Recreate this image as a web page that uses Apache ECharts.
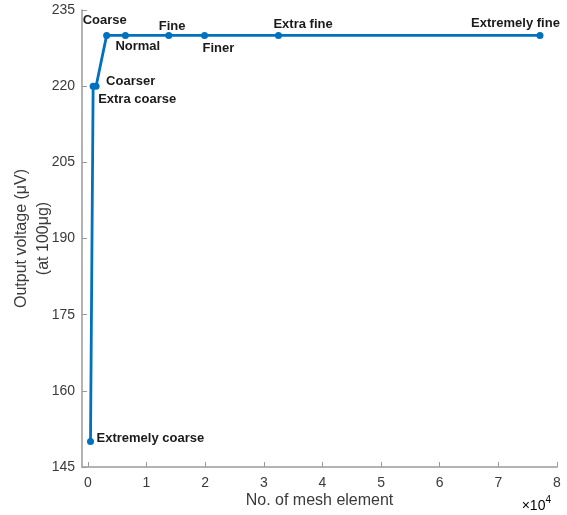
<!DOCTYPE html>
<html>
<head>
<meta charset="utf-8">
<script src="https://cdn.jsdelivr.net/npm/echarts@6/dist/echarts.min.js"></script>
<style>html,body{margin:0;padding:0;background:#fff}#c{width:567px;height:515px}</style>
</head>
<body>
<div id="c"></div>
<script>
// Data
const meshNames = ['Extremely coarse','Extra coarse','Coarser','Coarse','Normal','Fine','Finer','Extra fine','Extremely fine'];
const meshElements = [450, 900, 1400, 3200, 6400, 13800, 19900, 32500, 77100];
const outputVoltage = [150, 220, 220, 230, 230, 230, 230, 230, 230];
const xTicks = [0, 10000, 20000, 30000, 40000, 50000, 60000, 70000, 80000];
const yTicks = [145, 160, 175, 190, 205, 220, 235];

// Label placement (text left / centre offset relative to point), layout only
const labelOffsets = [
  [6, -3], [5, 13], [10, -5], [-24, -15], [-10, 11], [-10, -9], [-2, 13], [-5, -11], [-69, -12]
];
const SYM = 7;

const chart = echarts.init(document.getElementById('c'), null, {renderer: 'canvas'});
const data = meshElements.map((x, i) => ({
  value: [x, outputVoltage[i]],
  name: meshNames[i],
  label: {
    show: true,
    position: 'right',
    distance: 0,
    offset: [labelOffsets[i][0] - SYM / 2, labelOffsets[i][1]],
    formatter: meshNames[i]
  }
}));

const axisColor = '#9a9a9a';
const labelColor = '#3a3a3a';
const font = 'Liberation Sans, Arial, sans-serif';
chart.setOption({
  animation: false,
  backgroundColor: '#fff',
  grid: {left: 82, right: 10, top: 10, bottom: 48, containLabel: false, outerBoundsMode: 'none'},
  xAxis: {
    type: 'value',
    min: -1000, max: 80000,
    axisLine: {show: true, onZero: false, lineStyle: {color: axisColor, width: 1.5}},
    axisTick: {show: true, inside: true, length: 5, customValues: xTicks, lineStyle: {color: axisColor}},
    axisLabel: {customValues: xTicks, color: labelColor, fontSize: 14, fontFamily: font, margin: 9,
      formatter: v => String(Math.round(v / 10000))},
    splitLine: {show: false},
    name: 'No. of mesh element',
    nameLocation: 'middle',
    nameGap: 26,
    nameMoveOverlap: false,
    nameTextStyle: {color: labelColor, fontSize: 16, fontFamily: font, verticalAlign: 'top'}
  },
  yAxis: {
    type: 'value',
    min: 145, max: 235, interval: 15,
    axisLine: {show: true, onZero: false, lineStyle: {color: axisColor, width: 1.5}},
    axisTick: {show: true, inside: true, length: 5, lineStyle: {color: axisColor}},
    axisLabel: {color: labelColor, fontSize: 14, fontFamily: font, margin: 7},
    splitLine: {show: false},
    name: 'Output voltage (μV)\n(at 100μg)',
    nameLocation: 'middle',
    nameGap: 27,
    nameRotate: 90,
    nameMoveOverlap: false,
    nameTextStyle: {color: labelColor, fontSize: 16, lineHeight: 22, align: 'center', fontFamily: font}
  },
  series: [{
    type: 'line',
    data: data,
    symbol: 'circle',
    symbolSize: SYM,
    showAllSymbol: true,
    lineStyle: {color: '#0072BD', width: 2.8},
    itemStyle: {color: '#0072BD'},
    label: {color: '#1a1a1a', fontSize: 13, fontWeight: 'bold', fontFamily: font},
    emphasis: {disabled: true}
  }],
  graphic: [{
    type: 'text',
    right: 16,
    top: 495,
    style: {
      text: '{a|×10}{b|4}',
      rich: {
        a: {fontSize: 14, color: labelColor, fontFamily: font, verticalAlign: 'bottom'},
        b: {fontSize: 10, color: labelColor, fontFamily: font, verticalAlign: 'top', padding: [0,0,8,0]}
      }
    }
  }]
});
</script>
</body>
</html>
